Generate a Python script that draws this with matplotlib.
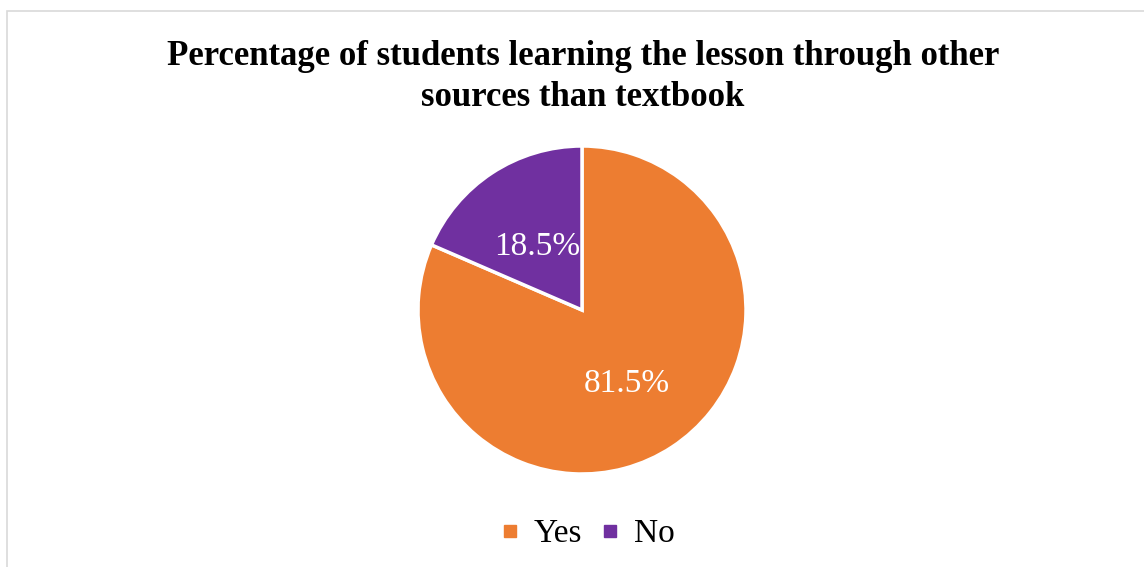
import matplotlib
matplotlib.use("Agg")
import matplotlib.pyplot as plt
from matplotlib.patches import Rectangle
from matplotlib.lines import Line2D

labels = ["Yes", "No"]
values = [81.5, 18.5]
colors = ["#ED7D31", "#7030A0"]

plt.rcParams["font.family"] = ["Liberation Serif", "DejaVu Serif"]

fig = plt.figure(figsize=(11.44, 5.67), dpi=100)

# chart border (right/bottom run off the image like in the reference)
fig.patches.append(Rectangle((7 / 1144, -0.05), 1.2, 1 - 11 / 567 + 0.05,
                             transform=fig.transFigure, fill=False,
                             edgecolor="#D9D9D9", linewidth=1.2))

ax = fig.add_axes([418 / 1144, 93 / 567, 328 / 1144, 328 / 567])
wedges, texts, autotexts = ax.pie(
    values, colors=colors, startangle=90, counterclock=False,
    autopct="%.1f%%", pctdistance=0.5,
    wedgeprops=dict(edgecolor="white", linewidth=2.5),
    textprops=dict(color="white", fontsize=24))
for t in autotexts:
    x, y = t.get_position()
    t.set_position((x, y - 0.03))
ax.set_xlim(-1, 1)
ax.set_ylim(-1, 1)
ax.set_aspect("equal")

fig.text(0.5096, 1 - 77 / 567,
         "Percentage of students learning the lesson through other\nsources than textbook",
         ha="center", va="center", fontsize=25, fontweight="bold",
         linespacing=1.35)

handles = [Line2D([], [], marker="s", linestyle="none", markersize=8,
                  markerfacecolor=c, markeredgecolor=c) for c in colors]
fig.legend(handles, labels, loc="center", bbox_to_anchor=(584 / 1144, 1 - 534 / 567),
           ncol=2, frameon=False, fontsize=24, handletextpad=0.2,
           columnspacing=0.35, handlelength=1.0)

fig.savefig("out.png", dpi=100)
